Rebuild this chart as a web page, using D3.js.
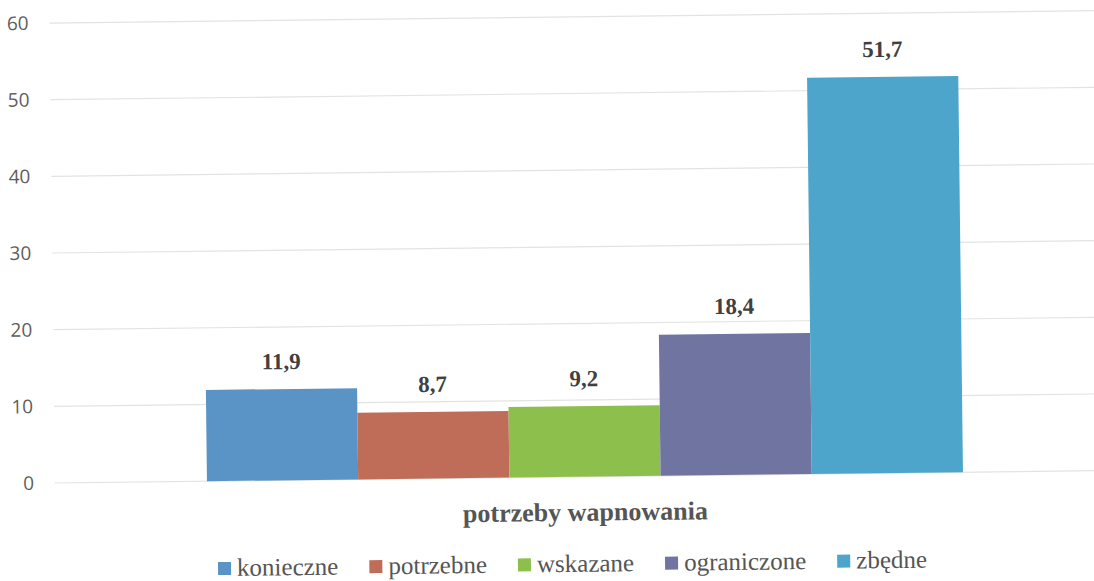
<!DOCTYPE html>
<html>
<head>
<meta charset="utf-8">
<script src="https://cdn.jsdelivr.net/npm/d3@7"></script>
<style>
  html, body { margin: 0; padding: 0; background: #fff; }
  svg { display: block; }
  .serif { font-family: "Liberation Serif", "Times New Roman", serif; }
  .sans { font-family: "Open Sans", "DejaVu Sans", sans-serif; }
</style>
</head>
<body>
<svg id="chart" width="1094" height="581"></svg>
<script>
// Chart data
const categories = ["potrzeby wapnowania"];
const seriesNames = ["konieczne", "potrzebne", "wskazane", "ograniczone", "zbędne"];
const seriesValues = [11.9, 8.7, 9.2, 18.4, 51.7];
const yTicks = [0, 10, 20, 30, 40, 50, 60];
const seriesColors = ["#5a94c7", "#bf6d58", "#8cbf4c", "#6f74a0", "#4ea5cb"];

const svg = d3.select("#chart");

// whole chart sits on a slight tilt
const g = svg.append("g").attr("transform", "rotate(-0.68, 55, 483)");

const plotLeft = 55, plotRight = 1115, plotTop = 23, plotBottom = 483;

const y = d3.scaleLinear().domain([0, 60]).range([plotBottom, plotTop]);
const x0 = d3.scaleBand().domain(categories).range([plotLeft, plotRight]).paddingInner(0).paddingOuter(0.201);
const x1 = d3.scaleBand().domain(seriesNames).range([0, x0.bandwidth()]).padding(0);
const color = d3.scaleOrdinal().domain(seriesNames).range(seriesColors);

// gridlines
g.append("g")
  .selectAll("line")
  .data(yTicks)
  .join("line")
  .attr("x1", plotLeft).attr("x2", plotRight)
  .attr("y1", d => y(d)).attr("y2", d => y(d))
  .attr("stroke", "#e3e3e3").attr("stroke-width", 1.2);

// y axis labels
const yAxis = d3.axisLeft(y).tickValues(yTicks).tickSize(0).tickPadding(0).tickFormat(d3.format("d"));
const ya = g.append("g").attr("transform", `translate(34,0)`).call(yAxis);
ya.select(".domain").remove();
ya.attr("font-family", null).attr("font-size", null);
ya.selectAll("text")
  .attr("class", "sans")
  .style("font-size", "19px")
  .attr("fill", "#5e5e5e");

// bars
const cat = g.selectAll("g.cat")
  .data(categories)
  .join("g")
  .attr("class", "cat")
  .attr("transform", d => `translate(${x0(d)},0)`);

const rows = seriesNames.map((s, i) => ({ s, v: seriesValues[i] }));

cat.selectAll("rect")
  .data(rows)
  .join("rect")
  .attr("x", d => x1(d.s))
  .attr("width", x1.bandwidth())
  .attr("y", d => y(d.v))
  .attr("height", d => y(0) - y(d.v))
  .attr("fill", d => color(d.s));

// value labels
cat.selectAll("text.val")
  .data(rows)
  .join("text")
  .attr("class", "val serif")
  .attr("x", d => x1(d.s) + x1.bandwidth() / 2)
  .attr("y", d => y(d.v) - 20)
  .attr("text-anchor", "middle")
  .style("font-weight", "bold")
  .style("font-size", "23px")
  .attr("fill", "#404040")
  .text(d => d3.format(".1f")(d.v).replace(".", ","));

// category axis label
g.append("g")
  .selectAll("text")
  .data(categories)
  .join("text")
  .attr("class", "serif")
  .attr("x", d => x0(d) + x0.bandwidth() / 2)
  .attr("y", 527)
  .attr("text-anchor", "middle")
  .style("font-weight", "bold")
  .style("font-size", "26px")
  .attr("fill", "#555")
  .text(d => d);

// legend
const legend = g.append("g").attr("transform", "translate(217,578)");
let lx = 0;
seriesNames.forEach((s) => {
  const item = legend.append("g").attr("transform", `translate(${lx},0)`);
  item.append("rect").attr("x", 0).attr("y", -14).attr("width", 13).attr("height", 13).attr("fill", color(s));
  const t = item.append("text")
    .attr("class", "serif")
    .attr("x", 19).attr("y", 0)
    .style("font-size", "25px")
    .attr("fill", "#555")
    .text(s);
  lx += 19 + t.node().getComputedTextLength() + 31;
});
</script>
</body>
</html>
